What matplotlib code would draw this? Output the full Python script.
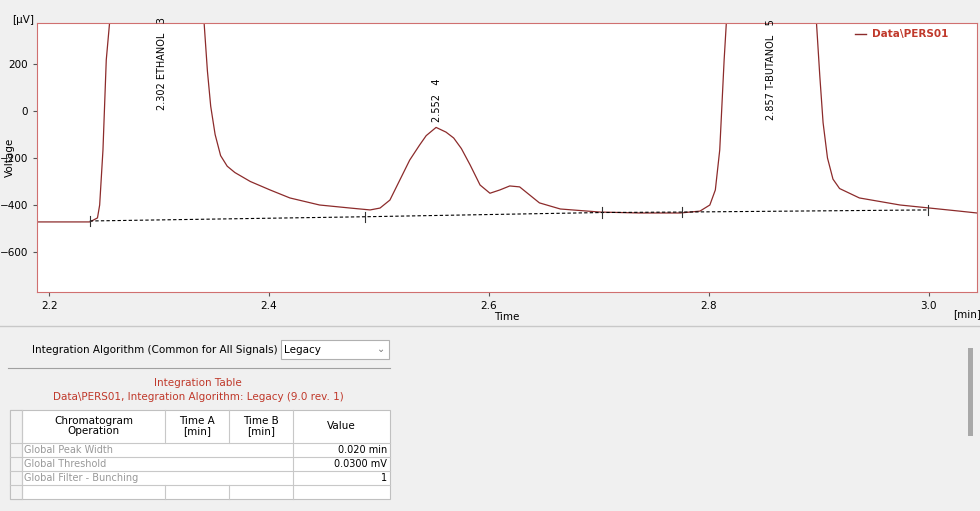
"""Chromatogram screenshot recreation: PERS01 trace with integration table panel."""

import matplotlib.pyplot as plt
from matplotlib.patches import Rectangle

# trace (min, uV); off-scale peaks clipped by the axes
time_min = [2.189, 2.237, 2.244, 2.246, 2.249, 2.252, 2.255, 2.302, 2.341, 2.344,
            2.347, 2.351, 2.356, 2.362, 2.369, 2.383, 2.401, 2.419, 2.446, 2.474, 2.492,
            2.501, 2.510, 2.519, 2.528, 2.537, 2.543, 2.552, 2.561, 2.568, 2.575, 2.583,
            2.592, 2.601, 2.610, 2.619, 2.628, 2.637, 2.646, 2.665, 2.701, 2.737,
            2.774, 2.792, 2.801, 2.806, 2.810, 2.814, 2.816, 2.857, 2.898, 2.901,
            2.904, 2.908, 2.913, 2.919, 2.937, 2.974, 3.001, 3.028, 3.044]
voltage_uv = [-472, -472, -455, -400, -166, 217, 374, 5000, 374, 170,
              20, -100, -190, -235, -262, -300, -336, -370, -400, -413, -421,
              -413, -379, -294, -209, -145, -105, -70, -90, -115, -160, -230,
              -315, -350, -336, -319, -323, -357, -391, -417, -430, -434,
              -434, -426, -400, -336, -166, 217, 374, 5000, 374, 150,
              -50, -200, -290, -330, -370, -400, -413, -426, -434]

baseline_t = [2.237, 2.487, 2.703, 2.776, 2.999]
baseline_v = [-468, -450, -432, -430, -421]

peak_times = [2.303, 2.553, 2.857]
peak_labels = ["2.302 ETHANOL   3", "2.552   4", "2.857 T-BUTANOL   5"]
peak_label_v = [4, -47, -38]

table_cols = ["Chromatogram\nOperation", "Time A\n[min]", "Time B\n[min]", "Value"]
table_rows = ["Global Peak Width", "Global Threshold", "Global Filter - Bunching"]
table_values = ["0.020 min", "0.0300 mV", "1"]

TRACE = "#8c2b2b"
FRAME = "#d07070"
BG = "#f0f0f0"

fig = plt.figure(figsize=(9.8, 5.11), dpi=100, facecolor=BG)

# pixel-space background axes for the lower panel
bg = fig.add_axes([0, 0, 1, 1], zorder=0)
bg.set_xlim(0, 980)
bg.set_ylim(511, 0)
bg.axis("off")
bg.axhline(326, color="#c8c8c8", lw=1)
bg.plot([8, 390], [368, 368], color="#a0a0a0", lw=0.8)
bg.text(278, 350, "Integration Algorithm (Common for All Signals)", ha="right", va="center", fontsize=7.5)
bg.add_patch(Rectangle((281, 340), 108, 19, fc="white", ec="#b0b0b0", lw=0.8))
bg.text(284, 350, "Legacy", ha="left", va="center", fontsize=7.5)
bg.text(381, 349, "\u2304", ha="center", va="center", fontsize=7, color="#777777")
bg.text(198, 383, "Integration Table", ha="center", va="center", fontsize=7.5, color="#c0392b")
bg.text(198, 397, "Data\\PERS01, Integration Algorithm: Legacy (9.0 rev. 1)", ha="center",
        va="center", fontsize=7.5, color="#c0392b")
bg.add_patch(Rectangle((968, 348), 5, 88, fc="#a8a8a8", ec="none"))

col_x = [10, 22, 165, 229, 293, 390]
row_y = [410, 443, 457, 471, 485, 499]
bg.add_patch(Rectangle((10, 410), 380, 89, fc="white", ec="#c0c0c0", lw=0.8))
bg.add_patch(Rectangle((10, 410), 12, 89, fc="#f4f4f4", ec="#c0c0c0", lw=0.8))
for x in col_x[1:-1]:
    ymax = 443 if x in (165, 229) else 499
    bg.plot([x, x], [410, ymax], color="#c8c8c8", lw=0.8)
for x in (165, 229):
    bg.plot([x, x], [485, 499], color="#c8c8c8", lw=0.8)
for y in row_y[1:-1]:
    bg.plot([10, 390], [y, y], color="#c8c8c8", lw=0.8)
for i, name in enumerate(table_cols):
    bg.text((col_x[i + 1] + col_x[i + 2]) / 2, 426, name, ha="center", va="center",
            fontsize=7.5, linespacing=1.1)
for i, (name, val) in enumerate(zip(table_rows, table_values)):
    yc = (row_y[i + 1] + row_y[i + 2]) / 2
    bg.text(24, yc, name, ha="left", va="center", fontsize=7, color="#999999")
    bg.text(387, yc, val, ha="right", va="center", fontsize=7)

# chromatogram
ax = fig.add_axes([37 / 980, 1 - 292 / 511, 940 / 980, 269 / 511], zorder=1)
ax.plot(time_min, voltage_uv, color=TRACE, lw=0.9)
ax.plot(baseline_t, baseline_v, color="black", lw=0.8, ls=(0, (3, 2)))
for t, v in zip(baseline_t, baseline_v):
    ax.plot([t, t], [v - 22, v + 22], color="#333333", lw=0.8)
for t, lab, v in zip(peak_times, peak_labels, peak_label_v):
    ax.text(t, v, lab, rotation=90, ha="center", va="bottom", fontsize=7)

ax.set_xlim(2.189, 3.044)
ax.set_ylim(-770, 374)
ax.set_xticks([2.2, 2.4, 2.6, 2.8, 3.0])
ax.set_yticks([200, 0, -200, -400, -600])
ax.tick_params(labelsize=7.5, length=3, color="#555555")
for s in ax.spines.values():
    s.set_color(FRAME)
ax.set_xlabel("Time", fontsize=7.5, labelpad=1)
ax.set_ylabel("Voltage", fontsize=7.5)
ax.yaxis.set_label_coords(-0.024, 0.5)
fig.text(12 / 980, 1 - 20 / 511, "[\u00b5V]", fontsize=7.5, ha="left", va="center")
fig.text(953 / 980, 1 - 314 / 511, "[min]", fontsize=7.5, ha="left", va="center")

ax.plot([0.870, 0.882], [0.96, 0.96], transform=ax.transAxes, color=TRACE, lw=1)
ax.text(0.888, 0.96, "Data\\PERS01", transform=ax.transAxes, color="#c0392b",
        fontsize=7.5, fontweight="bold", va="center")

fig.savefig("out.png", dpi=100, facecolor=BG)
